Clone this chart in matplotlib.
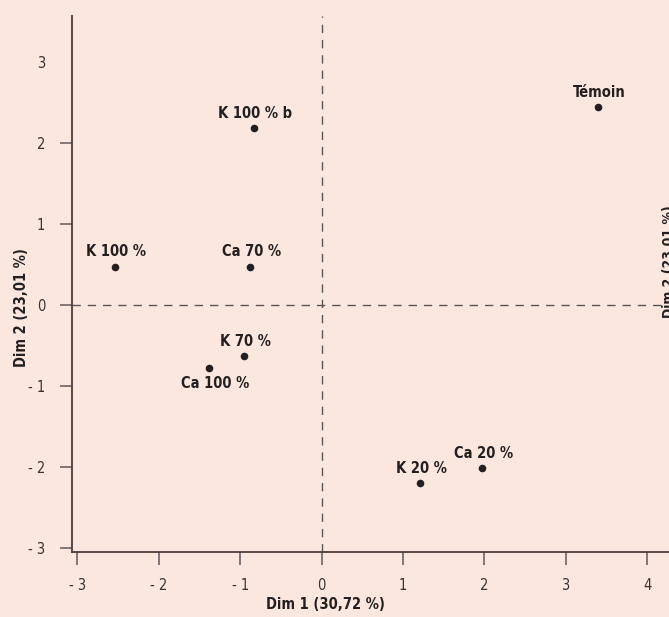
import matplotlib
matplotlib.use("Agg")
import matplotlib.pyplot as plt
from matplotlib import font_manager

# sample coordinates on the first two dimensions
labels = ["Témoin", "K 100 % b", "K 100 %", "Ca 70 %", "K 70 %", "Ca 100 %", "K 20 %", "Ca 20 %"]
dim1 = [3.40, -0.83, -2.54, -0.88, -0.95, -1.38, 1.21, 1.97]
dim2 = [2.44, 2.19, 0.475, 0.475, -0.63, -0.78, -2.20, -2.01]
label_below = [False, False, False, False, False, True, False, False]

xticks = [-3, -2, -1, 0, 1, 2, 3, 4]
yticks = [-3, -2, -1, 0, 1, 2, 3]
xlabel = "Dim 1 (30,72 %)"
ylabel = "Dim 2 (23,01 %)"

names = {f.name for f in font_manager.fontManager.ttflist}
if "Liberation Sans Narrow" in names:
    fam = ["Liberation Sans Narrow", "DejaVu Sans"]
    stretch = "normal"
else:
    fam = ["DejaVu Sans"]
    stretch = "condensed"
plt.rcParams["font.family"] = fam
plt.rcParams["font.stretch"] = stretch

bg = "#fce7de"
ink = "#231f20"

fig = plt.figure(figsize=(6.69, 6.17), dpi=100, facecolor=bg)
ax = fig.add_axes([0.1072, 0.1053, 0.933, 0.8687])
ax.set_facecolor(bg)

ax.set_xlim(-3.07, 4.6)
ax.set_ylim(-3.05, 3.568)

ax.axhline(0, xmax=(4.19 + 3.07) / (4.6 + 3.07), color="#5c5555", lw=1.0, ls=(0, (6, 5)))
ax.axvline(0, color="#5c5555", lw=1.0, ls=(0, (6, 5)))

ax.scatter(dim1, dim2, s=20, color=ink, zorder=3)
for lab, x, y, below in zip(labels, dim1, dim2, label_below):
    if below:
        ax.annotate(lab, (x, y), xytext=(4, -11), textcoords="offset points",
                    ha="center", va="center", fontsize=10.5, fontweight="bold", color=ink)
    else:
        ax.annotate(lab, (x, y), xytext=(1, 10.5), textcoords="offset points",
                    ha="center", va="center", fontsize=10.5, fontweight="bold", color=ink)

ax.set_xticks(xticks)
ax.set_xticklabels([f"- {abs(t)}" if t < 0 else str(t) for t in xticks])
ax.set_yticks(yticks)
ax.set_yticklabels([f"- {abs(t)}" if t < 0 else str(t) for t in yticks])
ax.yaxis.get_major_ticks()[-1].tick1line.set_visible(False)

for s in ["top", "right"]:
    ax.spines[s].set_visible(False)
for s in ["left", "bottom"]:
    ax.spines[s].set_color("#4a3c3a")
    ax.spines[s].set_linewidth(1.3)
ax.tick_params(direction="out", length=9, width=1.2, color="#6d6464",
               labelsize=10.5, labelcolor="#3a3334", pad=10)

ax.set_xlabel(xlabel, fontsize=10.5, fontweight="bold", color=ink)
ax.set_ylabel(ylabel, fontsize=10.5, fontweight="bold", color=ink)
ax.xaxis.set_label_coords(0.406, -0.084)
ax.yaxis.set_label_coords(-0.068, 0.457)

# label of the neighbouring panel, cut at the figure edge
fig.text(662 / 669, 1 - 262 / 617, ylabel, rotation=90, ha="left", va="center",
         fontsize=10, fontweight="bold", color=ink)

fig.savefig("out.png", dpi=100, facecolor=bg)
